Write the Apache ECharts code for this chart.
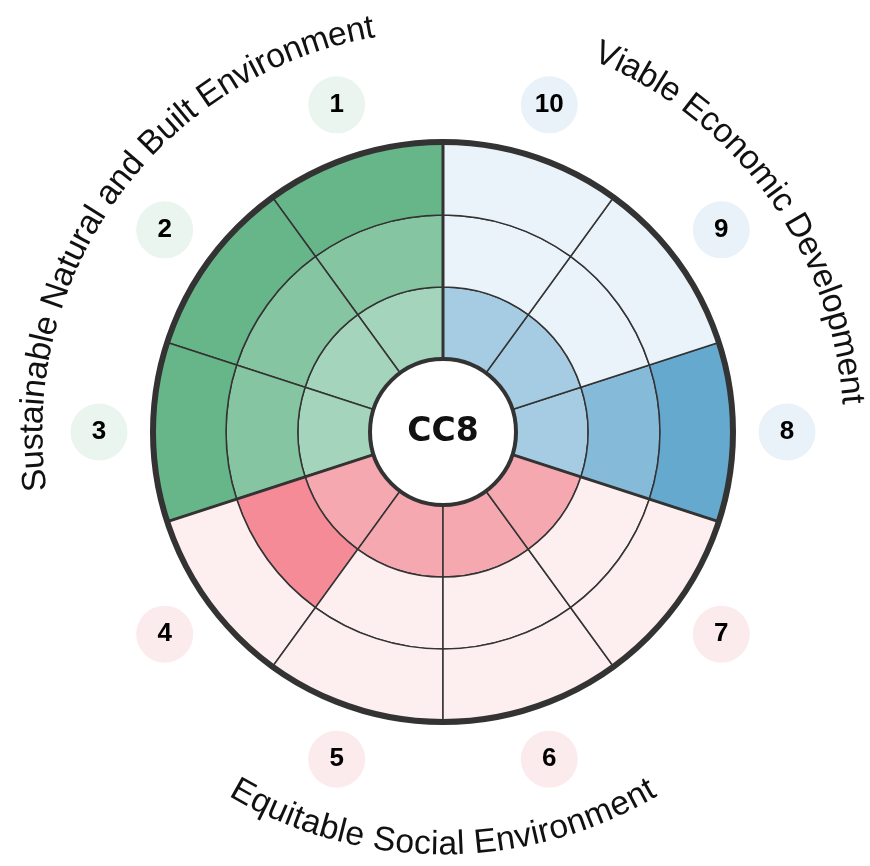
<!DOCTYPE html>
<html>
<head>
<meta charset="utf-8">
<title>CC8</title>
<script src="https://cdn.jsdelivr.net/npm/echarts@6/dist/echarts.min.js"></script>
<style>
  html, body { margin: 0; padding: 0; background: #fff; }
  #wheel { width: 870px; height: 866px; }
</style>
</head>
<body>
<div id="wheel"></div>
<script>
// indicators, numbered anticlockwise from the top
const categories = ['1', '2', '3', '4', '5', '6', '7', '8', '9', '10'];
// filled level (0-3) of each indicator
const scores = [3, 3, 3, 2, 1, 1, 1, 3, 1, 1];
const groupTitles = ['Sustainable Natural and Built Environment', 'Equitable Social Environment', 'Viable Economic Development'];
const groupSizes = [3, 4, 3];
const rings = [1, 2, 3];
const centreLabel = 'CC8';

const palette = [
  { fill: ['#a4d4bb', '#85c5a1', '#67b689'], empty: '#ebf5ef', badge: '#e9f5ee' },
  { fill: ['#f5a8b0', '#f48b96', '#ee6d7b'], empty: '#fdeeef', badge: '#fcebec' },
  { fill: ['#a5cce2', '#85bad9', '#66a9cf'], empty: '#ebf3fa', badge: '#e9f1f9' }
];

const cx = 443, cy = 432;
const innerR = 73, outerR = 289, badgeR = 344;
const titleFont = 'Liberation Sans';

// which group each indicator belongs to
const groupOf = [];
groupSizes.forEach((n, g) => { for (let i = 0; i < n; i++) groupOf.push(g) });

const ringSeries = rings.map((ring, k) => ({
  type: 'bar',
  coordinateSystem: 'polar',
  polarIndex: 0,
  stack: 'wheel',
  barCategoryGap: '0%',
  silent: true,
  itemStyle: { borderColor: '#333', borderWidth: 1.5 },
  data: categories.map((c, i) => ({
    value: 1,
    itemStyle: {
      color: scores[i] > k ? palette[groupOf[i]].fill[k] : palette[groupOf[i]].empty
    }
  }))
}));

// heavier lines between the three groups
const step = 360 / categories.length;
let acc = 0;
const boundaries = groupSizes.map(n => { const a = acc * step; acc += n; return a });
const separatorSeries = boundaries.map(a => ({
  type: 'line',
  coordinateSystem: 'polar',
  polarIndex: 1,
  data: [[0, a], [rings.length, a]],
  symbol: 'none',
  silent: true,
  z: 3,
  lineStyle: { color: '#333', width: 3 }
}));

const badgeSeries = {
  type: 'scatter',
  coordinateSystem: 'polar',
  polarIndex: 2,
  symbolSize: 57,
  silent: true,
  clip: false,
  itemStyle: { opacity: 1 },
  data: categories.map((c, i) => ({ value: [1, i], itemStyle: { color: palette[groupOf[i]].badge, opacity: 1 } })),
  label: {
    show: true,
    position: 'inside',
    formatter: p => categories[p.dataIndex],
    color: '#000',
    opacity: 1,
    fontSize: 26,
    fontWeight: 'bold',
    fontFamily: titleFont
  }
};

// curved group titles, one text element per letter
const ctx = document.createElement('canvas').getContext('2d');
function measure(s, size) {
  ctx.font = size + 'px "' + titleFont + '"';
  return ctx.measureText(s).width;
}
const titleSize = 30 * (88.7 * Math.PI / 180 * 410) / measure(groupTitles[0], 30);

function arcLetters(text, centreDeg, r, facingIn) {
  const total = measure(text, titleSize);
  const c = centreDeg * Math.PI / 180;
  const dir = facingIn ? 1 : -1;
  const els = [];
  for (let i = 0; i < text.length; i++) {
    const ch = text[i];
    if (ch === ' ') continue;
    const mid = measure(text.slice(0, i), titleSize) + measure(ch, titleSize) / 2;
    const a = c + dir * (mid - total / 2) / r;
    els.push({
      type: 'text',
      silent: true,
      z: 100,
      x: cx + r * Math.cos(a),
      y: cy - r * Math.sin(a),
      rotation: facingIn ? a + Math.PI / 2 : a - Math.PI / 2,
      style: {
        text: ch,
        fontSize: titleSize,
        fontFamily: titleFont,
        fill: '#111',
        align: 'center',
        verticalAlign: 'middle'
      }
    });
  }
  return els;
}

const hidden = { show: false };

const option = {
  animation: false,
  polar: [
    { center: [cx, cy], radius: [innerR, outerR] },
    { center: [cx, cy], radius: [innerR, outerR] },
    { center: [cx, cy], radius: [0, badgeR] }
  ],
  angleAxis: [
    { polarIndex: 0, type: 'category', data: categories, startAngle: 90, clockwise: false, boundaryGap: true,
      axisLine: hidden, axisTick: hidden, axisLabel: hidden, splitLine: hidden },
    { polarIndex: 1, type: 'value', min: 0, max: 360, startAngle: 90, clockwise: false, show: false },
    { polarIndex: 2, type: 'category', data: categories, startAngle: 90, clockwise: false, show: false }
  ],
  radiusAxis: [
    { polarIndex: 0, type: 'value', min: 0, max: rings.length, show: false },
    { polarIndex: 1, type: 'value', min: 0, max: rings.length, show: false },
    { polarIndex: 2, type: 'value', min: 0, max: 1, show: false }
  ],
  graphic: [
    { type: 'circle', silent: true, z: 100, shape: { cx: cx, cy: cy, r: outerR + 1 },
      style: { fill: 'none', stroke: '#333', lineWidth: 6 } },
    { type: 'circle', silent: true, z: 100, shape: { cx: cx, cy: cy, r: innerR },
      style: { fill: '#fff', stroke: '#333', lineWidth: 4 } },
    { type: 'text', silent: true, z: 101, x: cx, y: cy,
      style: { text: centreLabel, fontSize: 33, fontWeight: 'bold', fontFamily: 'DejaVu Sans', fill: '#111',
        align: 'center', verticalAlign: 'middle' } }
  ]
    .concat(arcLetters(groupTitles[0], 144, 410, false))
    .concat(arcLetters(groupTitles[2], 36, 410, false))
    .concat(arcLetters(groupTitles[1], 270, 413, true)),
  series: ringSeries.concat(separatorSeries, [badgeSeries])
};

const chart = echarts.init(document.getElementById('wheel'));
chart.setOption(option);
</script>
</body>
</html>
